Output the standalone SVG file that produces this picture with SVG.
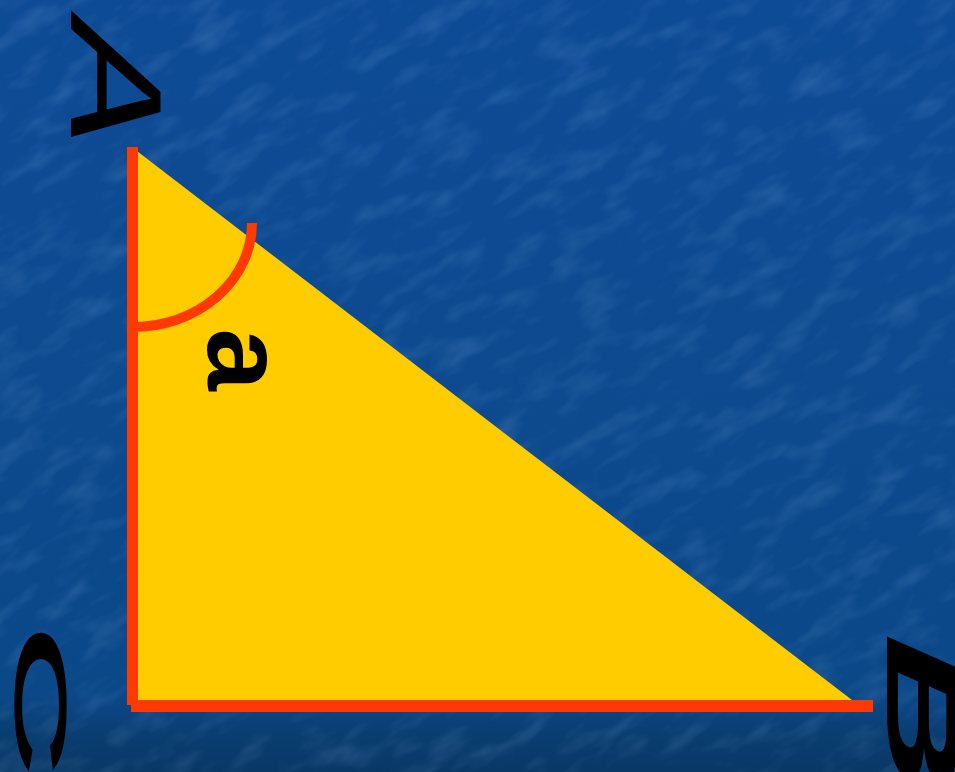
<svg xmlns="http://www.w3.org/2000/svg" width="955" height="772" viewBox="0 0 955 772">
  <defs>
    <linearGradient id="bg" x1="0" y1="0" x2="0" y2="1">
      <stop offset="0" stop-color="#0e4b96"/>
      <stop offset="0.9" stop-color="#0b4888"/>
      <stop offset="0.955" stop-color="#0a3d70"/>
      <stop offset="1" stop-color="#093866"/>
    </linearGradient>
    <filter id="tex" x="0" y="0" width="100%" height="100%">
      <feTurbulence type="fractalNoise" baseFrequency="0.02 0.05" numOctaves="3" seed="7" result="n"/>
      <feColorMatrix in="n" type="matrix" values="0 0 0 0 0.3  0 0 0 0 0.5  0 0 0 0 0.8  0 0 0 1.5 -0.7"/>
    </filter>
    <clipPath id="page"><rect x="0" y="0" width="955" height="772"/></clipPath>
    <style>
      .leg { stroke: #ff3a00; fill: none; }
      .lbl { font-family: "Liberation Sans", Arial, sans-serif; font-size: 100px; fill: #000; }
    </style>
  </defs>

  <g id="background">
    <rect x="0" y="0" width="955" height="772" fill="url(#bg)"/>
    <g clip-path="url(#page)">
      <rect x="-350" y="-350" width="1655" height="1472" filter="url(#tex)" opacity="0.25" transform="rotate(-30 477 386)"/>
    </g>
  </g>

  <g id="triangle">
    <polygon points="133,148 852,700 133,700" fill="#ffcc00"/>
  </g>

  <g id="connectors">
    <line class="leg" x1="132.5" y1="147" x2="132.5" y2="705" stroke-width="11"/>
    <line class="leg" x1="131" y1="706" x2="873" y2="706" stroke-width="12"/>
    <path class="leg" d="M 133 327 A 119 104 0 0 0 252 223" stroke-width="10"/>
  </g>

  <g id="label-A">
    <text class="lbl" transform="matrix(0 1.91 -1.30 -0.405 71 10)" x="0" y="0">A</text>
  </g>
  <g id="label-C">
    <text class="lbl" transform="matrix(0 2.07 -0.707 0 16 625.4)" x="0" y="0" stroke="#000" stroke-width="5" vector-effect="non-scaling-stroke">C</text>
  </g>
  <g id="label-B">
    <text class="lbl" font-weight="bold" transform="matrix(0 2.17 -1.02 -0.449 887 622)" x="0" y="0">B</text>
  </g>
  <g id="label-a">
    <text class="lbl" font-weight="bold" transform="matrix(0 1.12 -1.09 0 208 328.5)" x="0" y="0">a</text>
  </g>
</svg>
